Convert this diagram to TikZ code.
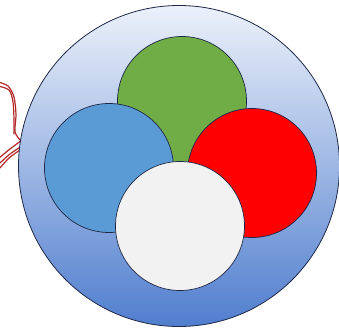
\documentclass[tikz,border=0pt]{standalone}
\begin{document}
\begin{tikzpicture}[x=1pt,y=-1pt,line join=round]
\definecolor{ringtop}{RGB}{236,241,250}
\definecolor{ringmid}{RGB}{165,190,230}
\definecolor{ringbot}{RGB}{80,126,206}
\definecolor{edge}{RGB}{30,40,70}
\definecolor{scribble}{RGB}{180,40,40}
\definecolor{ballgreen}{RGB}{112,173,71}
\definecolor{ballblue}{RGB}{91,155,213}
\definecolor{ballred}{RGB}{255,0,0}
\definecolor{ballwhite}{RGB}{242,242,242}
\tikzset{ball/.style={circle,draw=edge,line width=0.7pt,minimum size=129pt,inner sep=0pt},
ink/.style={draw=scribble,line width=1.2pt,line cap=round}
}
\useasboundingbox (0,0) rectangle (339,329);
\draw[ink] plot[smooth] coordinates {(-2,82) (8,86) (14,97) (16,115) (15,132) (21,141)};
\draw[ink] plot[smooth] coordinates {(-2,86) (9,90) (13,102) (14,120) (14,134)};
\draw[ink] plot[smooth] coordinates {(22,140) (10,149) (-1,158)};
\draw[ink] plot[smooth] coordinates {(22,146) (10,154) (0,163)};
\draw[ink] plot[smooth] coordinates {(0,168) (9,158) (20,150)};
\node[circle,minimum size=321pt,inner sep=0pt,draw=edge,line width=0.8pt,
top color=ringtop,middle color=ringmid,bottom color=ringbot] (outer) at (179,166) {};
\node[ball,fill=ballgreen] (green) at (182,101) {};
\node[ball,fill=ballblue] (blue) at (109,168) {};
\node[ball,fill=ballred] (red) at (252,173) {};
\node[ball,fill=ballwhite] (white) at (180,226) {};
\end{tikzpicture}
\end{document}
